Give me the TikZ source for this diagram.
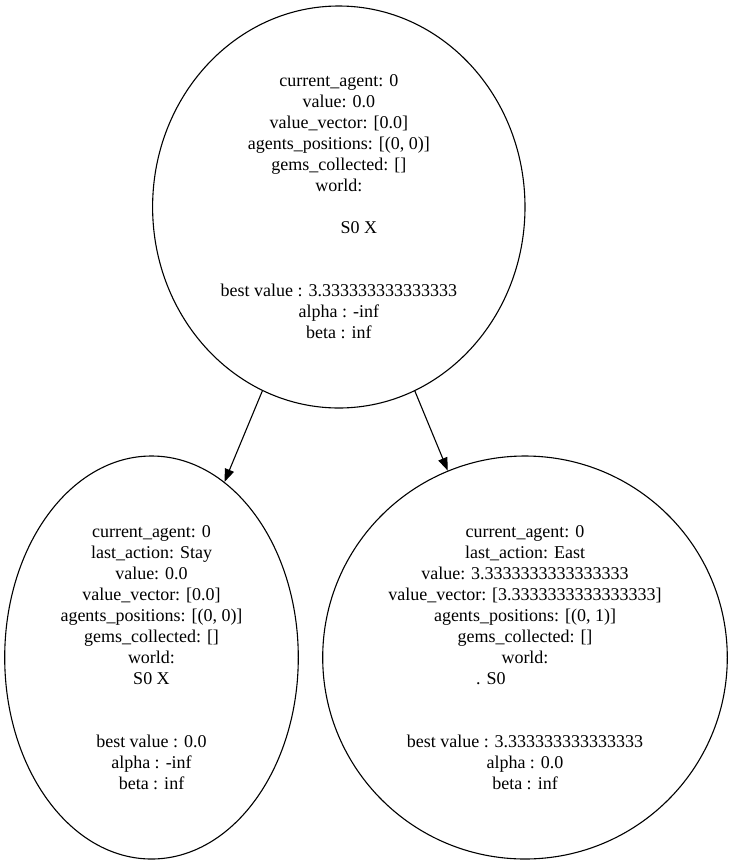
\documentclass[tikz,border=0pt]{standalone}
\usepackage{fontspec}
\setmainfont{Liberation Serif}
\usetikzlibrary{shapes.geometric,arrows.meta}
\begin{document}
\begin{tikzpicture}[x=1pt,y=-1pt,
  state/.style={draw, ellipse, line width=1.1pt, inner sep=0pt, align=center,
                font=\fontsize{18}{21}\selectfont},
  edge/.style={line width=1.1pt, -{Triangle[length=13pt,width=9.5pt]}}]
\useasboundingbox (0,0) rectangle (733,863);

% root state
\node[state, minimum width=372.4pt, minimum height=402pt] (root) at (338.8,207) {%
  current\_agent: 0\\
  value: 0.0\\
  value\_vector: [0.0]\\
  agents\_positions: [(0, 0)]\\
  gems\_collected: []\\
  world:\\[21pt]
  \hbox{\kern40pt S0 X}\\[42pt]
  best value : 3.333333333333333\\
  alpha : -inf\\
  beta : inf};

% child after Stay
\node[state, minimum width=293.6pt, minimum height=403pt] (stay) at (151.5,657.5) {%
  current\_agent: 0\\
  last\_action: Stay\\
  value: 0.0\\
  value\_vector: [0.0]\\
  agents\_positions: [(0, 0)]\\
  gems\_collected: []\\
  world:\\
  S0 X\\[42pt]
  best value : 0.0\\
  alpha : -inf\\
  beta : inf};

% child after East
\node[state, minimum width=404.6pt, minimum height=403pt] (east) at (525,657.5) {%
  current\_agent: 0\\
  last\_action: East\\
  value: 3.3333333333333333\\
  value\_vector: [3.3333333333333333]\\
  agents\_positions: [(0, 1)]\\
  gems\_collected: []\\
  world:\\
  \hbox{. S0\kern68pt}\\[42pt]
  best value : 3.333333333333333\\
  alpha : 0.0\\
  beta : inf};

\draw[edge] (root) -- (stay);
\draw[edge] (root) -- (east);
\end{tikzpicture}
\end{document}
